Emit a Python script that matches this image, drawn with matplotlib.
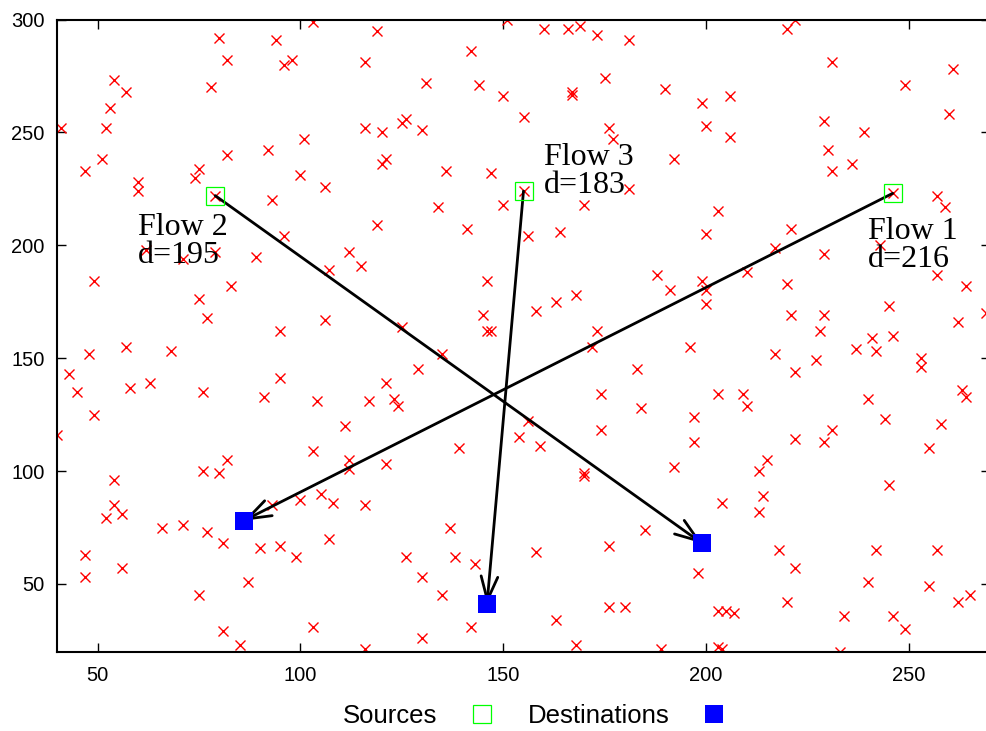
import matplotlib

matplotlib.use("Agg")
import matplotlib.pyplot as plt
from matplotlib.lines import Line2D

# background nodes (red crosses)
node_x = [80, 82, 78, 54, 57, 53, 41, 52, 82, 51, 47, 75, 74, 60, 60, 79,
          103, 94, 96, 98, 119, 116, 142, 131, 144, 116, 120, 125, 126, 130, 101, 92,
          120, 121, 100, 106, 136, 147, 93, 134, 119, 141, 96,
          151, 160, 166, 169, 173, 181, 175, 150, 167, 167, 190, 199, 206, 155, 176, 177,
          200, 206, 192, 181, 155, 150, 170, 203, 156, 164, 200,
          222, 220, 231, 261, 249, 260, 229, 239, 230, 236, 231, 246, 257, 259, 221,
          62, 71, 79, 49, 83, 75, 77, 57, 48, 68, 43, 45, 58, 63, 76, 49, 40, 76, 80, 82,
          89, 112, 115, 107, 146, 145, 146, 147, 106, 95, 125, 135, 129, 95, 121, 91,
          104, 117, 123, 124, 111, 139, 103, 112, 112, 121,
          188, 199, 200, 200, 191, 168, 163, 158, 173, 172, 196, 183, 174, 203, 184, 197,
          197, 156, 154, 159, 174, 192, 170,
          217, 229, 243, 210, 220, 257, 264, 245, 269, 262, 221, 229, 228, 241, 246, 237,
          242, 253, 253, 217, 227, 222, 209, 210, 240, 263, 264, 244, 258, 231, 222, 229,
          255, 215, 213,
          54, 54, 52, 56, 66, 71, 77, 81, 47, 47, 56, 75, 81, 85, 87,
          93, 100, 105, 108, 116, 107, 90, 95, 99, 103, 116, 137, 126, 138, 143, 130, 135,
          142, 130,
          170, 204, 185, 176, 158, 198, 176, 180, 163, 168, 189, 203, 205, 207, 203, 204,
          214, 213, 245, 218, 222, 220, 234, 233, 242, 240, 246, 249, 257, 255, 262, 265]
node_y = [292, 282, 270, 273, 268, 261, 252, 252, 240, 238, 233, 234, 230, 228, 224, 222,
          299, 291, 280, 282, 295, 281, 286, 272, 271, 252, 250, 254, 256, 251, 247, 242,
          236, 238, 231, 226, 233, 232, 220, 217, 209, 207, 204,
          300, 296, 296, 297, 293, 291, 274, 266, 268, 266.5, 269, 263, 266, 257, 252, 247,
          253, 248, 238, 225, 224, 218, 218, 215, 204, 206, 205,
          300, 296, 281, 278, 271, 258, 255, 250, 242, 236, 233, 223, 222, 217, 207,
          198, 194, 197, 184, 182, 176, 168, 155, 152, 153, 143, 135, 137, 139, 135, 125, 116, 100, 99, 105,
          195, 197, 191, 189, 184, 169, 162, 162, 167, 162, 164, 152, 145, 141, 139, 133,
          131, 131, 132, 129, 120, 110, 109, 105, 101, 103,
          187, 184, 180, 174, 180, 178, 175, 171, 162, 155, 155, 145, 134, 134, 128, 124,
          113, 122, 115, 111, 118, 102, 99,
          199, 196, 200, 188, 183, 187, 182, 173, 170, 166, 169, 169, 162, 159, 160, 154,
          153, 150, 146, 152, 149, 144, 134, 129, 132, 136, 133, 123, 121, 118, 114, 113,
          110, 105, 100,
          96, 85, 79, 81, 75, 76, 73, 68, 63, 53, 57, 45, 29, 23, 51,
          85, 87, 90, 86, 85, 70, 66, 67, 62, 31, 21, 75, 62, 62, 59, 53, 45,
          31, 26,
          98, 86, 74, 67, 64, 55, 40, 40, 34, 23, 21, 38, 38, 37, 22, 21,
          89, 82, 94, 65, 57, 42, 36, 20, 65, 51, 36, 30, 65, 49, 42, 45]

# flows: source -> destination
flow_names = ["Flow 1", "Flow 2", "Flow 3"]
flow_dist = [216, 195, 183]
src_x = [246, 79, 155]
src_y = [223, 222, 224]
dst_x = [86, 199, 146]
dst_y = [78, 68, 41]
# label anchor = baseline of the "d=..." line
label_x = [240, 60, 160]
label_y = [190.5, 192.2, 223.0]

SANS = "Liberation Sans"
SERIF = "Liberation Serif"

fig = plt.figure(figsize=(9.86, 7.31), dpi=100)
ax = fig.add_axes([57 / 986, 1 - 651.7 / 731, 933 / 986, 632.2 / 731])

ax.plot(node_x, node_y, "x", color="#ff0000", ms=7, mew=1.0, zorder=2)

for i in range(len(flow_names)):
    ax.annotate("", xy=(dst_x[i], dst_y[i]), xytext=(src_x[i], src_y[i]),
                arrowprops=dict(arrowstyle="->,head_length=1.7,head_width=0.6",
                                color="black", lw=2, shrinkA=0, shrinkB=0,
                                mutation_scale=10),
                zorder=3)
    ax.text(label_x[i], label_y[i], f"{flow_names[i]}\nd={flow_dist[i]}",
            family=SERIF, fontsize=23, ha="left", va="baseline",
            linespacing=0.95, zorder=4)

ax.plot(src_x, src_y, "s", mfc="none", mec="#00ff00", ms=13, mew=0.9, zorder=5)
ax.plot(dst_x, dst_y, "s", color="#0000ff", ms=13, mew=0, zorder=5)

ax.set_xlim(40, 270)
ax.set_ylim(20, 300)
ax.set_xticks(range(50, 251, 50))
ax.set_yticks(range(50, 301, 50))
ax.tick_params(direction="in", length=6.5, width=1, top=True, right=True,
               labelsize=14.5, colors="black")
ax.tick_params(axis="x", pad=10)
ax.tick_params(axis="y", pad=9)
for lab in ax.get_xticklabels() + ax.get_yticklabels():
    lab.set_family(SANS)
for sp in ax.spines.values():
    sp.set_linewidth(1.5)

handles = [
    Line2D([], [], ls="none", marker="s", mfc="none", mec="#00ff00", ms=13, mew=0.9),
    Line2D([], [], ls="none", marker="s", color="#0000ff", ms=13, mew=0),
]
fig.legend(handles, ["Sources", "Destinations"], loc="center",
           bbox_to_anchor=(0.5426, 0.02), ncol=2, frameon=False,
           markerfirst=False, handlelength=1.0, handletextpad=1.25,
           columnspacing=1.25, prop={"family": SANS, "size": 18.5})

fig.savefig("out.png", dpi=100)
